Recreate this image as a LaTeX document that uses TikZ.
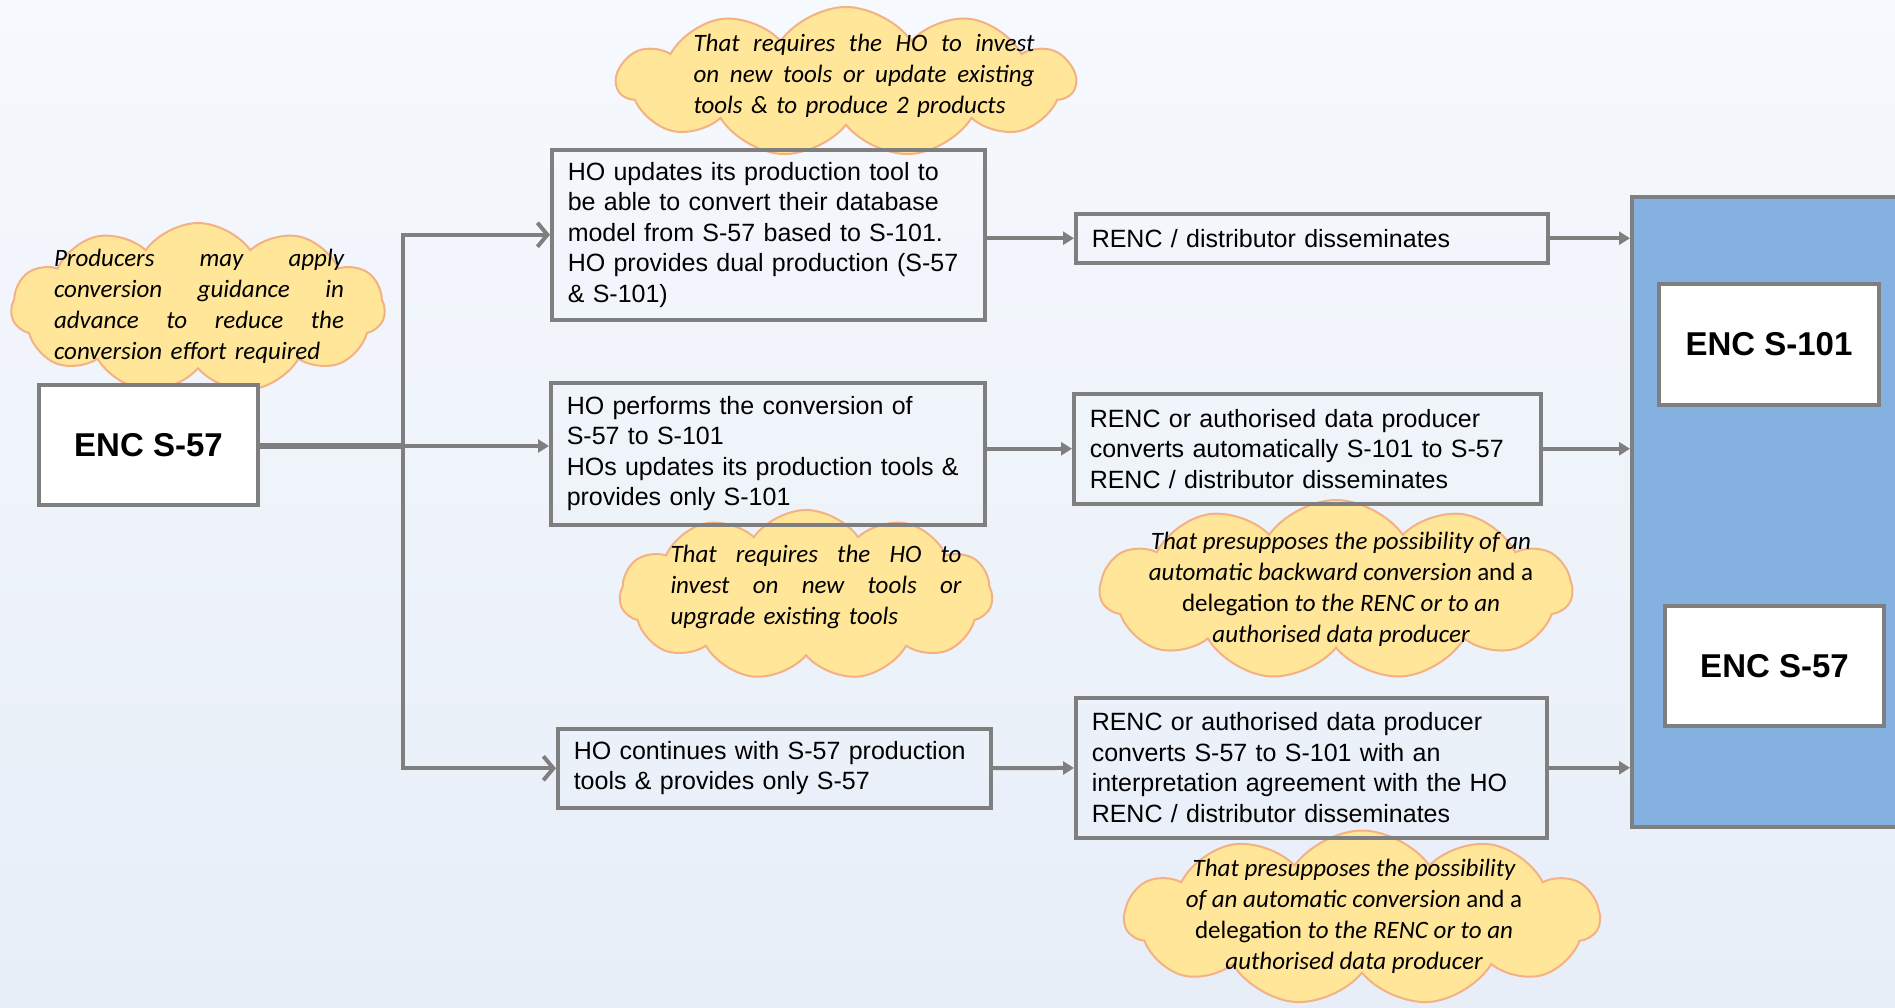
\documentclass[tikz,border=0pt]{standalone}
\usepackage{fontspec}
\setmainfont{Liberation Sans}
\newfontfamily\cloudfont{Carlito}
\usepackage{xcolor}
\usetikzlibrary{shapes.symbols,arrows.meta}

\definecolor{bgtop}{HTML}{F6F9FD}
\definecolor{bgbot}{HTML}{E7EEF8}
\definecolor{boxline}{HTML}{7F7F7F}
\definecolor{panelblue}{HTML}{84B1DF}
\definecolor{cloudfill}{HTML}{FFE699}
\definecolor{cloudline}{HTML}{F4B183}

\tikzset{
	procbox/.style={draw=boxline, line width=3.5pt, rectangle, inner xsep=16pt, inner ysep=0pt, align=left, anchor=north west, font=\fontsize{25}{30.5}\selectfont},
	encbox/.style={draw=boxline, line width=4pt, fill=white, anchor=north west, font=\fontsize{33}{40}\selectfont\bfseries},
	bubble/.style={cloud, cloud puffs=11, cloud puff arc=110, cloud ignores aspect, draw=cloudline, line width=2pt, fill=cloudfill, inner sep=0pt},
	bubbletext/.style={inner sep=0pt, font=\cloudfont\itshape\fontsize{25}{31}\selectfont},
	link/.style={draw=boxline, line width=4pt},
	tip/.style={link, -{Triangle[length=11pt,width=13pt]}},
	barb/.style={link, -{Straight Barb[length=10pt,width=24pt]}},
}

\begin{document}
\begin{tikzpicture}[x=1pt,y=-1pt]
	\useasboundingbox (0,0) rectangle (1895,1007);
	\clip (0,0) rectangle (1895,1007);
	\fill[top color=bgtop, middle color=bgtop, bottom color=bgbot] (0,0) rectangle (1895,1007);
	
	% clouds
	\node[bubble, minimum width=374, minimum height=170] (cprod) at (198,308) {};
	\node[bubbletext, text width=290, align=left] (tprod) at (199,306) {Producers\hfill may\hfill apply\\conversion\hfill guidance\hfill in\\advance\hfill to\hfill reduce\hfill the\\conversion effort required};
	\node[bubble, minimum width=458, minimum height=150] (cinvest) at (846,82) {};
	\node[bubbletext, text width=341, align=left] (tinvest) at (864,76) {That\hfill requires\hfill the\hfill HO\hfill to\hfill invest\\on\hfill new\hfill tools\hfill or\hfill update\hfill existing\\tools \& to produce 2 products};
	\node[bubble, minimum width=373, minimum height=170] (cupgrade) at (806,595) {};
	\node[bubbletext, text width=291, align=left] (tupgrade) at (816,587) {That\hfill requires\hfill the\hfill HO\hfill to\\invest\hfill on\hfill new\hfill tools\hfill or\\upgrade existing tools};
	\node[bubble, minimum width=472, minimum height=180] (cbackward) at (1336,590) {};
	\node[bubbletext, align=center] (tbackward) at (1341,589) {That presupposes the possibility of an\\automatic backward conversion {\upshape and a}\\{\upshape delegation} to the RENC or to an\\authorised data producer};
	\node[bubble, minimum width=475, minimum height=175] (cforward) at (1362,918) {};
	\node[bubbletext, align=center] (tforward) at (1354,916) {That presupposes the possibility\\of an automatic conversion {\upshape and a}\\{\upshape delegation} to the RENC or to an\\authorised data producer};
	
	% source and target
	\node[encbox, minimum width=219, minimum height=120] (enc57) at (37,383) {ENC S-57};
	\node[draw=boxline, line width=4pt, fill=panelblue, anchor=north west, minimum width=290, minimum height=630] (panel) at (1630,195) {};
	\node[encbox, minimum width=220, minimum height=121] (enc101) at (1657,282) {ENC S-101};
	\node[encbox, minimum width=219, minimum height=120] (enc57b) at (1663,604) {ENC S-57};
	
	% steps
	\node[procbox, text width=401, minimum height=170] (boxA) at (550,148) {HO updates its production tool to\\be able to convert their database\\model from S-57 based to S-101.\\HO provides dual production (S-57\\\& S-101)};
	\node[procbox, text width=402, minimum height=142] (boxB) at (549,381) {HO performs the conversion of\\S-57 to S-101\\HOs updates its production tools \&\\provides only S-101};
	\node[procbox, text width=401, minimum height=79] (boxC) at (556,727) {HO continues with S-57 production\\tools \& provides only S-57};
	\node[procbox, text width=440, minimum height=49] (boxD) at (1074,212) {RENC / distributor disseminates};
	\node[procbox, text width=435, minimum height=110] (boxE) at (1072,392) {RENC or authorised data producer\\converts automatically S-101 to S-57\\RENC / distributor disseminates};
	\node[procbox, text width=439, minimum height=140] (boxF) at (1074,696) {RENC or authorised data producer\\converts S-57 to S-101 with an\\interpretation agreement with the HO\\RENC / distributor disseminates};
	
	% connectors
	\coordinate (fork) at (403,446);
	\draw[link, line width=5.5pt] (enc57.east |- fork) -- (fork);
	\draw[barb] (fork) |- (boxA);
	\draw[barb] (fork) |- (boxC);
	\draw[tip] (fork) -- (fork -| boxB.west);
	\draw[tip] (boxA.east |- boxD) -- (boxD);
	\draw[tip] (boxB.east |- boxE) -- (boxE);
	\draw[tip] (boxC) -- (boxF);
	\draw[tip] (boxD) -- (boxD -| panel.west);
	\draw[tip] (boxE) -- (boxE -| panel.west);
	\draw[tip] (boxF) -- (boxF -| panel.west);
	
\end{tikzpicture}
\end{document}
